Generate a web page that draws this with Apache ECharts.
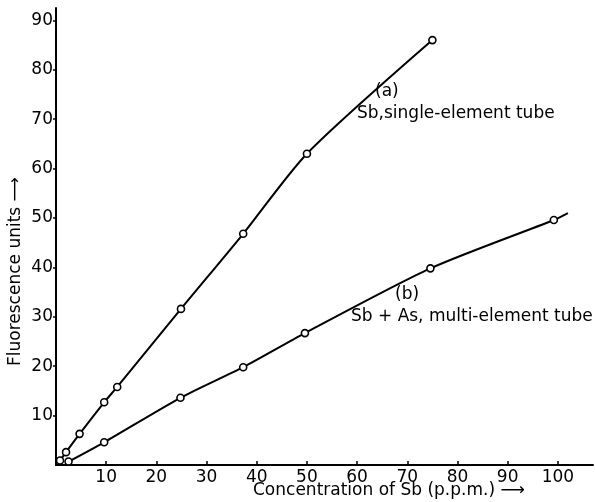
<!DOCTYPE html>
<html>
<head>
<meta charset="utf-8">
<script src="https://cdn.jsdelivr.net/npm/echarts@6/dist/echarts.min.js"></script>
<style>
  html, body { margin: 0; padding: 0; background: #ffffff; }
  #chart { width: 595px; height: 502px; }
</style>
</head>
<body>
<div id="chart"></div>
<script>
// Sb concentration (p.p.m.) and fluorescence readings
const concA = [0.8, 2.0, 4.7, 9.6, 12.2, 24.9, 37.3, 50.0, 75.0];
const fluorA = [0.9, 2.6, 6.3, 12.7, 15.8, 31.6, 46.8, 63.0, 86.0];
const concB = [2.5, 9.6, 24.8, 37.3, 49.6, 74.6, 99.2];
const fluorB = [0.7, 4.6, 13.6, 19.8, 26.7, 39.8, 49.6];
// curve (b) is drawn on a little past the last reading
const tailB = [102, 51];

const xTicks = [10, 20, 30, 40, 50, 60, 70, 80, 90, 100];
const yTicks = [10, 20, 30, 40, 50, 60, 70, 80, 90];

const FONT = 'DejaVu Sans';
const TEXT_FONT = '17px "DejaVu Sans"';

const seriesA = concA.map((c, i) => [c, fluorA[i]]);
const seriesB = concB.map((c, i) => [c, fluorB[i]]);
seriesB.push({ value: tailB, symbol: 'none' });

const chart = echarts.init(document.getElementById('chart'), null, { renderer: 'canvas' });

const lineStyle = { color: '#000', width: 2 };
const pointStyle = { color: '#fff', borderColor: '#000', borderWidth: 1.6 };

chart.setOption({
  backgroundColor: '#ffffff',
  animation: false,
  grid: { left: 56, right: 2, top: 8, bottom: 37 },
  xAxis: {
    type: 'value',
    min: 0,
    max: 107,
    interval: 10,
    axisLine: { show: true, lineStyle: { color: '#000', width: 2 } },
    axisTick: {
      show: true, inside: true, length: 4,
      lineStyle: { color: '#000', width: 1.5 },
      customValues: xTicks
    },
    axisLabel: {
      color: '#000', fontFamily: FONT, fontSize: 17, margin: 4,
      customValues: xTicks,
      formatter: v => String(v)
    },
    splitLine: { show: false }
  },
  yAxis: {
    type: 'value',
    min: 0,
    max: 92.5,
    interval: 10,
    axisLine: { show: true, lineStyle: { color: '#000', width: 2 } },
    axisTick: {
      show: true, inside: false, length: 3,
      lineStyle: { color: '#000', width: 1.5 },
      customValues: yTicks
    },
    axisLabel: {
      color: '#000', fontFamily: FONT, fontSize: 17, margin: 3,
      customValues: yTicks,
      formatter: v => String(v)
    },
    splitLine: { show: false }
  },
  series: [
    {
      name: '(a)',
      type: 'line',
      data: seriesA,
      smooth: 0.25,
      symbol: 'circle',
      symbolSize: 7,
      lineStyle: lineStyle,
      itemStyle: pointStyle,
      z: 3
    },
    {
      name: '(b)',
      type: 'line',
      data: seriesB,
      smooth: 0.25,
      symbol: 'circle',
      symbolSize: 7,
      lineStyle: lineStyle,
      itemStyle: pointStyle,
      z: 3
    }
  ],
  graphic: [
    {
      type: 'text', left: 253, top: 482,
      style: { text: 'Concentration of Sb (p.p.m.) \u27F6', fill: '#000', font: TEXT_FONT }
    },
    {
      type: 'text', x: 7, y: 366, rotation: Math.PI / 2,
      style: { text: 'Fluorescence units \u27F6', fill: '#000', font: TEXT_FONT }
    },
    {
      type: 'text', left: 375, top: 83,
      style: { text: '(a)', fill: '#000', font: TEXT_FONT }
    },
    {
      type: 'text', left: 357, top: 105,
      style: { text: 'Sb,single-element tube', fill: '#000', font: TEXT_FONT }
    },
    {
      type: 'text', left: 395, top: 286,
      style: { text: '(b)', fill: '#000', font: TEXT_FONT }
    },
    {
      type: 'text', left: 351, top: 308,
      style: { text: 'Sb + As, multi-element tube', fill: '#000', font: TEXT_FONT }
    }
  ]
});
</script>
</body>
</html>
